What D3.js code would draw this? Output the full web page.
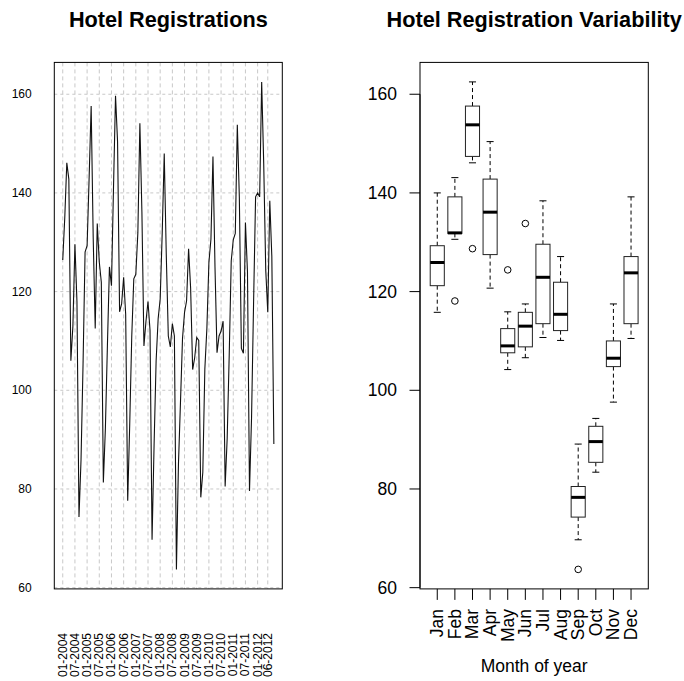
<!DOCTYPE html>
<html><head><meta charset="utf-8">
<script src="https://cdn.jsdelivr.net/npm/d3@7"></script>
<style>body{margin:0;background:#fff}svg{display:block}text{font-family:"Liberation Sans",Arial,sans-serif;fill:#000}</style>
</head><body>
<script>
// Monthly hotel registrations, Jan 2004 .. Sep 2012
const y2004 = [126.4,135,146.1,142.8,106,113,129.6,118,74.3,85.8,105.3,128];
const y2005 = [129.3,143.1,157.6,131,112.5,133.8,126,121.9,81.3,92.2,109,125];
const y2006 = [121.2,141,159.7,150.4,115.9,117.5,122.9,115.4,77.6,93.2,111,122.6];
const y2007 = [123.5,131.9,154.1,136.1,109,114,118,112.1,69.7,89,106,114.5];
const y2008 = [118.5,131.85,148,127.5,111,108.8,113.5,111,63.7,85,97.6,110.5];
const y2009 = [115.8,118.1,128.7,120.7,104.2,106.6,110.7,110.1,78.3,83.4,104.3,112.5];
const y2010 = [125.9,130.6,147.4,125,107.6,111,112,114,80.5,90.2,107,126.2];
const y2011 = [130.5,131.8,153.8,139,108.5,107.5,134,124,79.6,94.3,117.5,139.2];
const y2012 = [140,139.2,162.5,146,124.4,115.8,138.4,127.1,89.1];
const months = ["Jan","Feb","Mar","Apr","May","Jun","Jul","Aug","Sep","Oct","Nov","Dec"];
const dateLabels = ["01-2004","07-2004","01-2005","07-2005","01-2006","07-2006","01-2007","07-2007","01-2008","07-2008","01-2009","07-2009","01-2010","07-2010","01-2011","07-2011","01-2012","06-2012"];
const dateLabelIdx = [0,6,12,18,24,30,36,42,48,54,60,66,72,78,84,90,96,101];
const yTicks = [60,80,100,120,140,160];

const series = [].concat(y2004,y2005,y2006,y2007,y2008,y2009,y2010,y2011,y2012);
const N = series.length;

const W = 684, H = 681;
const svg = d3.select("body").append("svg").attr("width",W).attr("height",H);

const ext = d3.extent(series), pad = (ext[1]-ext[0])*0.04;
const pTop = 62.4, pBottom = 588.9;
const y = d3.scaleLinear().domain([ext[0]-pad, ext[1]+pad]).range([pBottom, pTop]);

// ---------- Left panel ----------
const L = {x0:54.3, x1:282.3};
const xL = d3.scaleLinear().domain([-(N-1)*0.04, (N-1)*1.04]).range([L.x0, L.x1]);
const gL = svg.append("g");
gL.selectAll("line.hg").data(yTicks).join("line")
  .attr("x1",L.x0).attr("x2",L.x1).attr("y1",d=>y(d)).attr("y2",d=>y(d))
  .attr("stroke","#c8c8c8").attr("stroke-dasharray","3,3");
gL.selectAll("line.vg").data(dateLabelIdx).join("line")
  .attr("x1",d=>xL(d)).attr("x2",d=>xL(d)).attr("y1",pTop).attr("y2",pBottom)
  .attr("stroke","#c8c8c8").attr("stroke-dasharray","4,3");
gL.append("path").datum(series)
  .attr("d", d3.line().x((d,i)=>xL(i)).y(d=>y(d)))
  .attr("fill","none").attr("stroke","#111").attr("stroke-width",1.1);
gL.append("rect").attr("x",L.x0).attr("y",pTop).attr("width",L.x1-L.x0).attr("height",pBottom-pTop)
  .attr("fill","none").attr("stroke","#000");
gL.selectAll("text.yl").data(yTicks).join("text")
  .attr("x",31.7).attr("y",d=>y(d)).attr("text-anchor","end").attr("dominant-baseline","central")
  .style("font-size","12px").text(d=>d);
gL.selectAll("text.xl").data(dateLabelIdx).join("text")
  .attr("transform",(d)=>`translate(${xL(d)},633) rotate(-90)`)
  .attr("text-anchor","end").attr("dominant-baseline","central")
  .style("font-size","12px").text((d,i)=>dateLabels[i]);
svg.append("text").attr("x",(L.x0+L.x1)/2).attr("y",27).attr("text-anchor","middle")
  .style("font-size","21.7px").style("font-weight","bold").text("Hotel Registrations");

// ---------- Right panel ----------
const R = {x0:420, x1:648.3};
const xR = d3.scaleLinear().domain([0.5-12*0.04, 12.5+12*0.04]).range([R.x0, R.x1]);
const gR = svg.append("g");
function fivenum(a){
  const x = a.slice().sort((p,q)=>p-q), n = x.length;
  const n4 = Math.floor((n+3)/2)/2;
  const d = [1, n4, (n+1)/2, n+1-n4, n];
  return d.map(v => 0.5*(x[Math.floor(v)-1] + x[Math.ceil(v)-1]));
}
const stats = months.map((m,mi)=>{
  const vals = series.filter((v,i)=>i%12===mi);
  const f = fivenum(vals), iqr = f[3]-f[1];
  const lo = f[1]-1.5*iqr, hi = f[3]+1.5*iqr;
  const inside = vals.filter(v=>v>=lo && v<=hi);
  return {m, pos:mi+1, q1:f[1], med:f[2], q3:f[3], wlo:d3.min(inside), whi:d3.max(inside),
          out: vals.filter(v=>v<lo||v>hi)};
});
const bw = (xR(1.8)-xR(1)) / 2;
stats.forEach(s=>{
  const cx = xR(s.pos);
  const g = gR.append("g");
  g.append("line").attr("x1",cx).attr("x2",cx).attr("y1",y(s.q3)).attr("y2",y(s.whi))
    .attr("stroke","#000").attr("stroke-dasharray","4,3");
  g.append("line").attr("x1",cx).attr("x2",cx).attr("y1",y(s.q1)).attr("y2",y(s.wlo))
    .attr("stroke","#000").attr("stroke-dasharray","4,3");
  [s.whi,s.wlo].forEach(v=>g.append("line").attr("x1",cx-bw/2).attr("x2",cx+bw/2)
    .attr("y1",y(v)).attr("y2",y(v)).attr("stroke","#000"));
  g.append("rect").attr("x",cx-bw).attr("width",2*bw).attr("y",y(s.q3)).attr("height",y(s.q1)-y(s.q3))
    .attr("fill","#fff").attr("stroke","#222");
  g.append("line").attr("x1",cx-bw).attr("x2",cx+bw).attr("y1",y(s.med)).attr("y2",y(s.med))
    .attr("stroke","#000").attr("stroke-width",3);
  s.out.forEach(v=>g.append("circle").attr("cx",cx).attr("cy",y(v)).attr("r",3.3)
    .attr("fill","none").attr("stroke","#000"));
});
gR.append("rect").attr("x",R.x0).attr("y",pTop).attr("width",R.x1-R.x0).attr("height",pBottom-pTop)
  .attr("fill","none").attr("stroke","#000");
gR.append("line").attr("x1",R.x0).attr("x2",R.x0).attr("y1",y(60)).attr("y2",y(160)).attr("stroke","#000");
gR.selectAll("line.yt").data(yTicks).join("line")
  .attr("x1",R.x0-10.5).attr("x2",R.x0).attr("y1",d=>y(d)).attr("y2",d=>y(d)).attr("stroke","#000");
gR.selectAll("text.yl").data(yTicks).join("text")
  .attr("x",397).attr("y",d=>y(d)).attr("text-anchor","end").attr("dominant-baseline","central")
  .style("font-size","17.5px").text(d=>d);
gR.selectAll("line.xt").data(months).join("line")
  .attr("x1",(d,i)=>xR(i+1)).attr("x2",(d,i)=>xR(i+1)).attr("y1",pBottom).attr("y2",pBottom+11)
  .attr("stroke","#000");
gR.selectAll("text.xl").data(months).join("text")
  .attr("transform",(d,i)=>`translate(${xR(i+1)},609) rotate(-90)`)
  .attr("text-anchor","end").attr("dominant-baseline","central")
  .style("font-size","17.5px").text(d=>d);
gR.append("text").attr("x",(R.x0+R.x1)/2).attr("y",672).attr("text-anchor","middle")
  .style("font-size","17.5px").text("Month of year");
svg.append("text").attr("x",(R.x0+R.x1)/2).attr("y",27).attr("text-anchor","middle")
  .style("font-size","21.7px").style("font-weight","bold").text("Hotel Registration Variability");
</script>
</body></html>
